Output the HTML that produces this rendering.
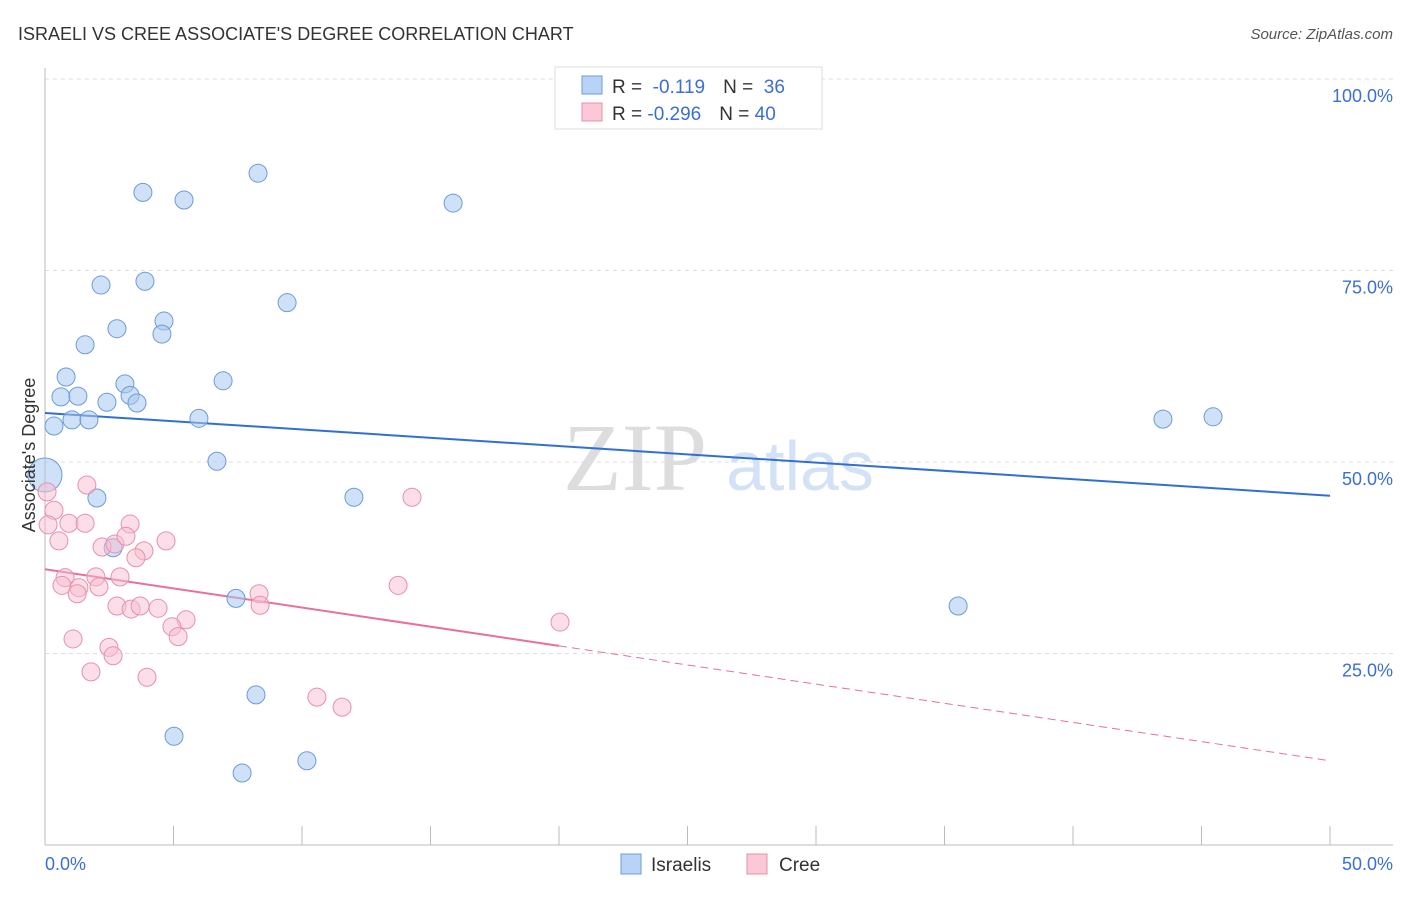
<!DOCTYPE html>
<html><head><meta charset="utf-8"><style>
body{margin:0;background:#fff;font-family:"Liberation Sans",sans-serif}
</style></head><body>
<svg width="1406" height="892" xmlns="http://www.w3.org/2000/svg" font-family="Liberation Sans, sans-serif">
<text x="18" y="40" font-size="18" fill="#333">ISRAELI VS CREE ASSOCIATE'S DEGREE CORRELATION CHART</text>
<text x="1393" y="39" font-size="15" fill="#555" text-anchor="end" font-style="italic">Source: ZipAtlas.com</text>
<g>
<text x="635" y="490" font-size="96" fill="#ddd" text-anchor="middle" font-family="Liberation Serif, serif">ZIP</text>
<text x="800" y="490" font-size="70" fill="#d3e2f6" text-anchor="middle">atlas</text>
</g>
<g id="grid"></g><g id="axes"></g><g id="trends"></g><g id="pts"></g>
<text x="35" y="455" font-size="18" fill="#333" text-anchor="middle" transform="rotate(-90 35 455)">Associate's Degree</text>
<text x="45" y="870" font-size="18" fill="#3b6fd4">0.0%</text>
<text x="1393" y="870" font-size="18" fill="#3b6fd4" text-anchor="end">50.0%</text>
<g>
<rect x="555" y="67" width="267" height="62" fill="#fff" stroke="#ddd"/>
<rect x="582" y="76" width="20" height="18" fill="#b8d3f5" stroke="#6b9bdc"/>
<rect x="582" y="103" width="20" height="18" fill="#fac8d7" stroke="#e890aa"/>
<text x="612" y="93" font-size="19" fill="#333">R = <tspan fill="#3b6fd4">&#160;-0.119</tspan><tspan dx="18">N = </tspan><tspan fill="#3b6fd4">&#160;36</tspan></text>
<text x="612" y="120" font-size="19" fill="#333">R = <tspan fill="#3b6fd4">-0.296</tspan><tspan dx="18">N = </tspan><tspan fill="#3b6fd4">40</tspan></text>
</g>
<g>
<rect x="621" y="854" width="20" height="20" fill="#b8d3f5" stroke="#6b9bdc"/>
<text x="651" y="871" font-size="19" fill="#333">Israelis</text>
<rect x="747" y="854" width="20" height="20" fill="#fac8d7" stroke="#e890aa"/>
<text x="779" y="871" font-size="19" fill="#333">Cree</text>
</g>
</svg>
<script>
const blueX=[3.81,5.41,8.29,15.88,2.18,3.89,9.42,2.80,4.63,4.55,1.56,0.82,3.11,6.93,0.62,1.28,3.31,2.41,3.58,0.35,1.05,1.71,5.99,0,6.69,2.02,12.02,2.65,7.43,8.21,5.02,7.67,10.19,35.53,43.5,45.45];
const blueY=[85.2,84.2,87.7,83.8,73.1,73.6,70.8,67.4,68.4,66.7,65.3,61.1,60.2,60.6,58.5,58.6,58.7,57.8,57.7,54.7,55.5,55.5,55.7,48.3,50.1,45.3,45.4,38.8,32.2,19.6,14.2,9.4,11.0,31.2,55.6,55.9];
const pinkX=[0.08,0.35,0.12,0.54,1.63,0.93,1.56,3.31,2.22,2.72,3.15,3.85,4.71,3.54,0.78,0.66,1.98,2.92,1.32,1.25,2.10,2.80,3.35,3.70,4.40,5.49,4.94,5.18,1.09,2.49,2.65,1.79,3.97,8.33,8.37,13.74,14.28,20.04,10.58,11.56];
const pinkY=[46.1,43.7,41.8,39.7,47.0,42.0,42.0,41.9,38.9,39.3,40.3,38.4,39.7,37.5,34.9,33.9,35.0,35.0,33.6,32.8,33.7,31.2,30.8,31.2,30.9,29.4,28.5,27.2,26.9,25.8,24.7,22.6,21.9,32.8,31.3,33.9,45.4,29.1,19.3,18.0];
const blueTrend=[56.4,45.6];
const pinkTrend=[36.0,11.0];
const pinkSolidEnd=20;
const yTicks=[25,50,75,100];
const yTickLabels=["25.0%","50.0%","75.0%","100.0%"];
const xTicks=[0,5,10,15,20,25,30,35,40,45,50];
const NS="http://www.w3.org/2000/svg";
const sx=v=>45+v*25.7, sy=v=>845-v*7.66;
function mk(tag,attrs,parent){const e=document.createElementNS(NS,tag);for(const k in attrs)e.setAttribute(k,attrs[k]);document.getElementById(parent).appendChild(e);return e;}
yTicks.forEach((t,i)=>{
 const g=mk('line',{x1:45,x2:1393,y1:sy(t),y2:sy(t),stroke:'#ddd','stroke-dasharray':'4,4'},'grid');
 
 
 const l=mk('text',{x:1393,y:sy(t)+23,'font-size':18,fill:'#3b6fd4','text-anchor':'end'},'grid');
 l.textContent=yTickLabels[i];
 
 
});
const ax=mk('line',{x1:45,x2:45,y1:68,y2:845,stroke:'#bbb'},'axes');


const bx=mk('line',{x1:45,x2:1393,y1:845,y2:845,stroke:'#bbb'},'axes');


xTicks.forEach(t=>{
 const k=mk('line',{x1:sx(t),x2:sx(t),y1:826,y2:845,stroke:'#bbb'},'axes');
 
 
});
const bl=mk('line',{x1:sx(0),y1:sy(blueTrend[0]),x2:sx(50),y2:sy(blueTrend[1]),stroke:'#2f6fd6','stroke-width':2},'trends');


const pAt=x=>pinkTrend[0]+(pinkTrend[1]-pinkTrend[0])*x/50;
const pl=mk('line',{x1:sx(0),y1:sy(pinkTrend[0]),x2:sx(pinkSolidEnd),y2:sy(pAt(pinkSolidEnd)),stroke:'#e8709a','stroke-width':2},'trends');


const pd=mk('line',{x1:sx(pinkSolidEnd),y1:sy(pAt(pinkSolidEnd)),x2:sx(50),y2:sy(pinkTrend[1]),stroke:'#e8709a','stroke-width':1,'stroke-dasharray':'8,5'},'trends');


blueX.forEach((x,i)=>{
 const c=mk('circle',{cx:sx(x),cy:sy(blueY[i]),r:(x===0?17:9),fill:'rgba(168,200,240,0.55)',stroke:'#6b9bdc','stroke-width':1},'pts');
 
 
});
pinkX.forEach((x,i)=>{
 const c=mk('circle',{cx:sx(x),cy:sy(pinkY[i]),r:9,fill:'rgba(248,190,208,0.5)',stroke:'#e890aa','stroke-width':1},'pts');
 
 
});
</script>
</body></html>
